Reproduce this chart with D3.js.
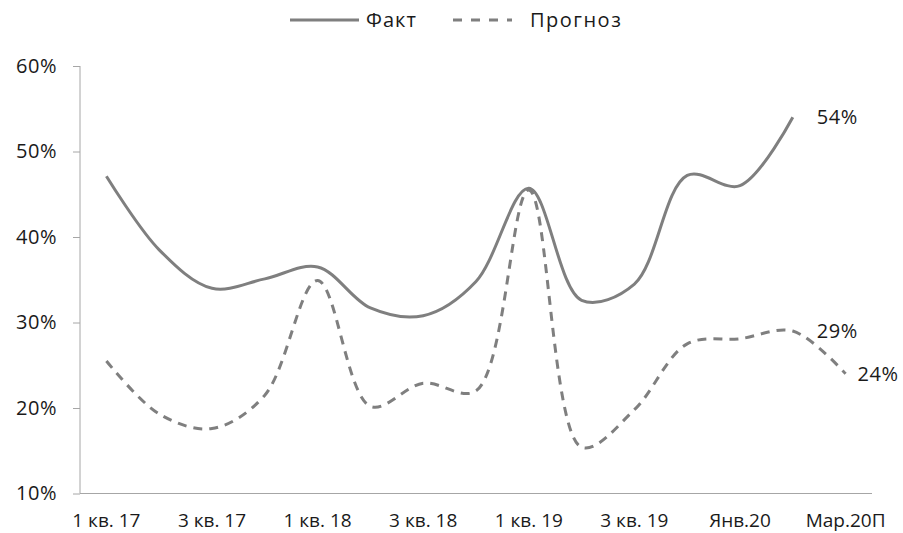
<!DOCTYPE html>
<html>
<head>
<meta charset="utf-8">
<script src="https://cdn.jsdelivr.net/npm/d3@7"></script>
<style>
  body { margin: 0; background: #fff; }
  text { font-family: "Open Sans", sans-serif; fill: #1a1a1a; }
</style>
</head>
<body>
<div id="chart"></div>
<script>
var categories = ["1 кв. 17", "2 кв. 17", "3 кв. 17", "4 кв. 17", "1 кв. 18", "2 кв. 18", "3 кв. 18", "4 кв. 18",
  "1 кв. 19", "2 кв. 19", "3 кв. 19", "4 кв. 19", "Янв.20", "Фев.20", "Мар.20П"];
var factValues = [47.1, 38.5, 34.0, 35.1, 36.5, 31.7, 30.8, 34.8, 45.7, 32.6, 34.5, 47.2, 46.0, 54.0, null];
var forecastValues = [25.5, 19.3, 17.6, 21.5, 34.9, 20.2, 22.9, 22.0, 45.5, 15.4, 19.8, 27.5, 28.1, 29.0, 24.0];
var yTicks = [10, 20, 30, 40, 50, 60];
var seriesNames = ["Факт", "Прогноз"];

var width = 903, height = 533;
var lineColor = "#7f7f7f", axisColor = "#a6a6a6";

var svg = d3.select("#chart").append("svg")
  .attr("width", width)
  .attr("height", height);

var x = d3.scaleBand()
  .domain(categories)
  .range([80, 872])
  .padding(0);
var y = d3.scaleLinear()
  .domain([10, 60])
  .range([493.5, 66]);
var cx = function(c) { return x(c) + x.bandwidth() / 2; };

// y axis
var yAxis = svg.append("g")
  .attr("transform", "translate(80,0)")
  .call(d3.axisLeft(y).tickValues(yTicks).tickSize(7).tickPadding(16)
    .tickFormat(d => d + "%"));
yAxis.select(".domain").attr("stroke", axisColor).attr("d", "M0," + y(60) + "V" + y(10));
yAxis.selectAll(".tick line").attr("stroke", axisColor);
yAxis.selectAll(".tick text").attr("font-size", 20).attr("fill", "#1a1a1a")
  .style("font-family", "'Open Sans', sans-serif").style("letter-spacing", "0.5px");

// x axis
var xAxis = svg.append("g")
  .attr("transform", "translate(0," + y(10) + ")")
  .call(d3.axisBottom(x).tickValues(categories.filter((d, i) => i % 2 === 0))
    .tickSize(0).tickPadding(20));
xAxis.select(".domain").attr("stroke", axisColor).attr("d", "M80,0H872");
xAxis.selectAll(".tick text").attr("font-size", 19).attr("fill", "#1a1a1a")
  .style("font-family", "'Open Sans', sans-serif");

var line = d3.line()
  .defined(d => d.v !== null)
  .x(d => cx(d.c))
  .y(d => y(d.v))
  .curve(d3.curveCatmullRom.alpha(0.5));

var factData = categories.map((c, i) => ({c: c, v: factValues[i]}));
var forecastData = categories.map((c, i) => ({c: c, v: forecastValues[i]}));

svg.append("path")
  .datum(forecastData)
  .attr("d", line)
  .attr("fill", "none")
  .attr("stroke", lineColor)
  .attr("stroke-width", 3)
  .attr("stroke-dasharray", "9,7");

svg.append("path")
  .datum(factData)
  .attr("d", line)
  .attr("fill", "none")
  .attr("stroke", lineColor)
  .attr("stroke-width", 3);

// data labels
var labels = [
  {c: categories[13], v: factValues[13], dx: 24},
  {c: categories[13], v: forecastValues[13], dx: 24},
  {c: categories[14], v: forecastValues[14], dx: 12}
];
svg.selectAll("text.dlabel")
  .data(labels)
  .enter().append("text")
  .attr("class", "dlabel")
  .attr("x", d => cx(d.c) + d.dx)
  .attr("y", d => y(d.v))
  .attr("dy", "0.35em")
  .attr("font-size", 20)
  .style("letter-spacing", "0.5px")
  .text(d => Math.round(d.v) + "%");

// legend
var legend = svg.append("g");
legend.append("line")
  .attr("x1", 290).attr("x2", 359).attr("y1", 20).attr("y2", 20)
  .attr("stroke", lineColor).attr("stroke-width", 3);
legend.append("text")
  .attr("x", 366).attr("y", 20).attr("dy", "0.35em")
  .attr("font-size", 20)
  .style("letter-spacing", "1px")
  .text(seriesNames[0]);
legend.append("line")
  .attr("x1", 453).attr("x2", 512).attr("y1", 20).attr("y2", 20)
  .attr("stroke", lineColor).attr("stroke-width", 3)
  .attr("stroke-dasharray", "9,9");
legend.append("text")
  .attr("x", 530).attr("y", 20).attr("dy", "0.35em")
  .attr("font-size", 20)
  .style("letter-spacing", "1.5px")
  .text(seriesNames[1]);
</script>
</body>
</html>
